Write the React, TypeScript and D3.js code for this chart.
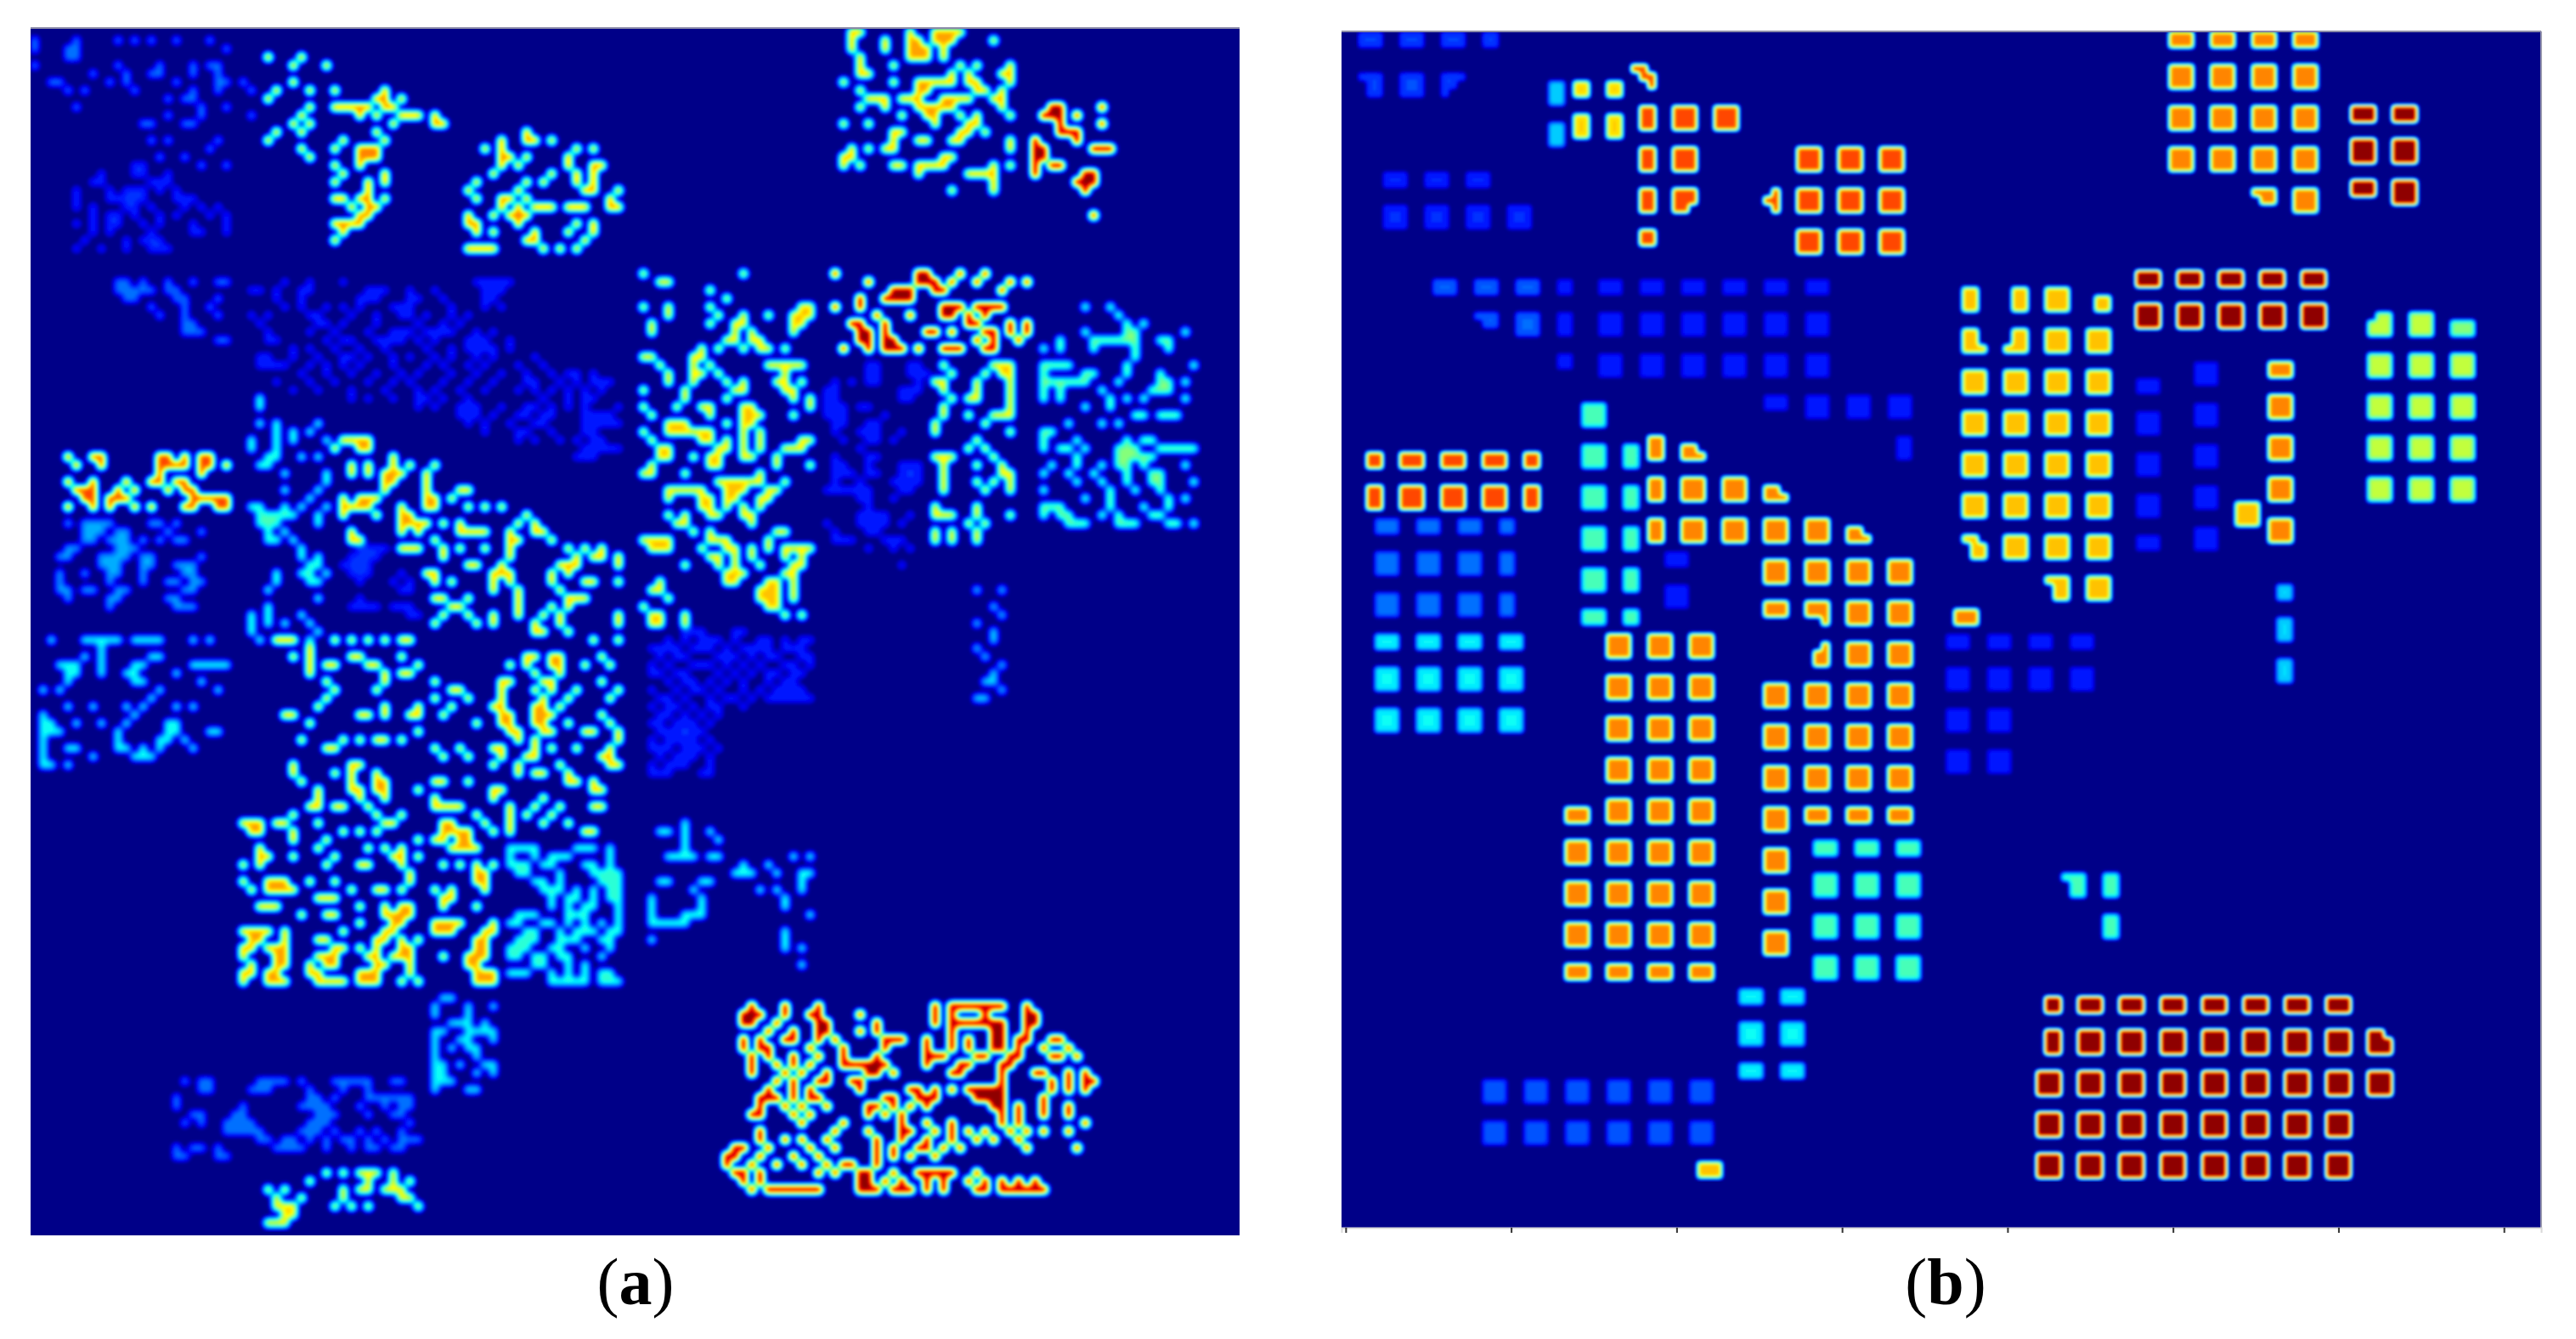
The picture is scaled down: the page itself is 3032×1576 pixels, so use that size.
import { useEffect, useMemo, useRef } from "react"
import * as d3 from "d3"

// 145 x 145 class map, shown with a jet colormap after smoothing
const GRID = 145
const UPSAMPLE = 4

const jetStops = [0, 0.125, 0.375, 0.625, 0.875, 1]
const jetColors = ["#000088", "#0000ff", "#00ffff", "#ffff00", "#ff0000", "#800000"]
const tickCells = [0, 20, 40, 60, 80, 100, 120, 140]

// panel (a): every row is [row, ...cols]
const aTopLeft = [[1,0,5,10,12,14,17,21],[2,0,4,5,23],[3,4,5],[4,0,10,15,19,21,22],[5,7,11,14,15,19,22],[6,2,3,9,11,17,22,23,25],[7,4,6,12,19,22,26],[8,16,18,19],[9,5,20,23],[10,16,20,26],[11,13,14,18,19],[13,14,16,22],[14,21],[15,15,18],[16,20,23]]
const aCloudLeft = [[16,12,13],[17,8,12,13,16],[18,7,8,14,15,16],[19,5,9,11,12,13,15,17],[20,5,9,10,11,12,13,17,18,19],[21,5,7,11,12,14,18,20,22],[22,7,9,10,12,15,17,21,23],[23,5,7,9,10,13,15,19,23],[24,7,9,14,19,20,23],[25,6,11,13,14,15],[26,5,8,11,14,15,16]]
const aStripLeft = [[30,10,11,13,16,19,22,23],[31,10,11,12,13,14,16,17],[32,11,12,17,18,22],[33,14,18,21],[34,15,18,22],[35,18,19],[36,18,19,20],[37,22,23]]
const aBand = [[30,30,33,37,53,54,55,56,57],[31,26,27,29,32,33,40,41,42,45,48,54,55,56],[32,29,32,39,40,41,45,46,49,54,55],[33,30,32,35,37,39,43,44,45,50,54,56],[34,26,28,33,34,38,41,44,45,47,50,52],[35,27,34,35,37,41,46,49,51],[36,28,33,36,40,43,44,45,47,48,49,50,53,55],[37,28,29,35,37,38,41,42,43,44,46,48,52,53,54,57],[38,31,33,36,39,42,47,50,52,53,54,55,57],[39,27,28,31,34,37,38,40,43,45,48,50,53,55,60],[40,27,28,29,30,33,35,37,39,43,47,49,52,54,58,61],[41,32,35,38,41,44,46,50,53,56,59,62,64,65,67],[42,29,33,36,40,43,45,49,52,55,59,60,63,65,67,68,69],[43,31,34,38,42,46,48,51,54,58,60,62,64,66,68],[44,38,40,43,46,47,49,52,61,64,66,67],[45,46,48,51,52,53,56,59,60,62,64,66,70],[46,51,52,53,55,58,59,61,62,66,67,68,69],[47,52,54,57,60,61,66,67,68,69,70],[48,54,58,59,62,66,67],[49,58,60,63,65,67,68],[50,66,67,68,69,70],[51,65,66,67]]
const aTopMiddle = [[3,28,32],[4,31,35],[6,31],[7,29,33,36,42],[8,28,41,42,44],[9,33,36,37,38,39,40,42,43],[10,32,39,41,44,45,46,48],[11,31,33,43,48,49],[12,29,32,41],[13,28,37,42],[14,32,36,39,40,41],[15,33,39,40,41],[16,36,39],[17,37,42],[18,36,40,42],[19,40],[20,36,37,39,40,42],[21,38,40,41],[22,39,40],[23,36,37,38,39],[24,37],[25,36]]
const aCircle = [[12,59],[13,56,59,60,62],[14,54,56,65,67],[15,56,57,59,64],[16,56,58,64,67,68],[17,55,62,65,67],[18,53,59,61,65,67],[19,52,58,66,67,70],[20,53,56,57,59,69],[21,56,58,60,61,62,64,65,66,69,70],[22,52,55,57,58,59],[23,52,53,58,65,67],[24,53,55,60,64,67],[25,59,60,66],[26,52,53,54,55,61,63,65]]
const aSmallOrange = [[51,4,7,8,15,16,18,20,21],[52,5,8,15,16,17,18,20,21,23],[53,15,20],[54,4,7,11,14,15,17,18],[55,5,6,7,10,12,16,18,19],[56,6,7,9,10,11,19,20,21,22,23],[57,4,7,9,12,14,18,19,22,23]]
const aBlueLeft = [[59,4,6,7,8,9,14,15,17],[60,6,7,8,10,11,16,20],[61,6,7,9,10,11,13,15,17,18],[62,4,5,10,11,12],[63,3,4,8,9,10,11,13,14,20],[64,8,9,10,13,14,17,18,19],[65,3,6,9,10,13,18,19],[66,3,9,13,16,17,19,20],[67,3,4,6,7,10,11,18,19],[68,4,9,10,16,17],[69,9,17,18,19]]
const aCyanLeft = [[73,2,6,7,8,9,10,12,13,14,15,19,21],[74,8],[75,6,8,14,15],[76,3,4,5,8,12,13,19,20,21,22,23],[77,4,5,8,11,12,17],[78,4,12,13,20],[79,1,3,15,22],[80,14],[81,4,7,11,13,17,19],[82,1,12],[83,1,2,5,8,11,16,17],[84,1,2,3,10,16,17,21,22],[85,1,10,15,16,18],[86,1,4,5,10,11,13,15,19],[87,1,7,12,13,14],[88,1,2,4]]
const aCyanColumn = [[44,27],[45,27],[47,27,29,34],[48,29,31,33],[49,26,29,31,35],[50,26,29],[51,28,29,32,34],[52,27,28],[53,30,35],[54,35],[55,30,34],[56,33],[57,26,27,30,32,35],[58,27,28,29,30,31,34],[59,27,28,29,34],[60,28,30],[61,28,29,31],[62,32],[63,32,34],[64,33,34],[65,29,32,33,35],[66,29,33,34],[67,28],[68,34],[69,28],[70,26,28,32],[71,26,28,30,33],[72,26,34],[73,27,33]]
const aInnerBlue = [[62,39,40,41,42],[63,38,39,40,41],[64,37,38,39,40],[65,38,39,40,44],[66,39,43,45],[67,44,45],[68,39],[69,38,39,40,41,43,44,45],[70,45,46]]
const aCentreMass = [[49,37,38,39,40],[50,36,39,40],[51,43],[52,38,40,43,45,48],[53,38,40,42,43,44,47],[54,42,43,47],[55,42,47,51,52],[56,37,39,40,41,47,48,50],[57,37,38,39,40,44,47,48,52,54,56],[58,37,41,44,45,59],[59,44,45,46,47,49,51,58,60],[60,38,44,46,51,52,53,54,57,60,61],[61,38,39,48,57,58,62],[62,44,45,46,49,51,54,57,64,66,68],[63,49,57,65,67,68,70],[64,52,53,56,63,64,65,70],[65,47,48,55,56,57,62,64],[66,48,50,55,57,62,66,67,70],[67,55,58,63],[68,48,49,52,58,64,65,66],[69,50,51,58,62,64],[70,49,52,55,58,61,63,70],[71,48,53,55,60,63,70],[72,60,61,64],[73,29,30,31,36,38,40,42,44,45,67,70],[74,33],[75,31,33,38,39,44,59,60,62,63,68],[76,33,35,36,40,41,46,57,59,62,63,66,69],[77,33,42,44,45,60,63],[78,35,42,48,56,57,61,62,68],[79,36,41,50,51,56,60,62,65,70],[80,35,48,52,56,61,64,69],[81,34,42,46,50,55,56,60,61,63],[82,30,31,39,40,42,45,46,49,56,57,60,61,62,68],[83,33,53,56,57,60,61,64,69],[84,46,57,58,61,62,66,67,70],[85,32,37,39,41,42,44,58,60,70],[86,35,36,48,51,55,56,60,62,65,69],[87,49,52,56,59,60,68,69],[88,31,38,39,55,58,63,69,70],[89,31,36,38,41,58,60,61,64],[90,32,38,41,42,48,49,52,64,65,67],[91,34,38,39,41,42,46,55,56,67,68],[92,34,39,42,48,55,61],[93,33,34,36,37,40,48,49,50,51,57,60,63,67,68],[94,31,41,44,53,57,59,62],[95,25,26,27,29,30,34,42,43,49,50,54,57,61,64],[96,26,27,31,37,39,41,49,50,51,52,55,57,66,67],[97,31,35,46,48,49,51,52],[98,27,34,40,42,44,50,51,52,53],[99,27,28,31,36,43,44,46],[100,25,27,35,39,40,44,49,51,53,55],[101,45,53,54],[102,25,28,29,30,33,36,45,53,54],[103,26,28,29,30,31,38,41,42,44,48,50,54],[104,34,35,36,49,50],[105,27,28,29,39,42,44,45,49,53],[106,32,35,36,42,43,44,45],[107,39,43,44,48,49,50,51,55],[108,25,26,27,28,30,37,42,43,48,49,50,54,55],[109,26,27,30,34,35,41,42,44,46,53,54],[110,25,26,28,29,30,36,37,39,41,44,45,53,54],[111,25,29,30,34,35,36,40,41,43,44,45,49,52,53,54],[112,26,29,30,33,35,36,41,42,45,52,53],[113,25,26,28,29,33,34,39,40,41,45,53,54,55],[114,25,28,29,30,34,35,36,37,39,40,41,44,46,53,54,55]]
const aCyanLower = [[98,57,58,59,60,65,66,67,69],[99,57,60,62,63,64,69],[100,57,58,59,61,62,66,67,69],[101,58,59,63,67,68,69,70],[102,60,61,63,68,69,70],[103,61,62,63,65,67,69,70],[104,62,64,65,67,69,70],[105,62,64,66,67,70],[106,58,59,60,64,65,66,70],[107,57,58,61,62,64,66,68,70],[108,59,60,63,65,66,67,69,70],[109,58,59,60,63,64,65,68,69],[110,57,58,59,62,63,66,69],[111,57,58,60,61,63,64,68],[112,60,61,64,66],[113,57,58,59,62,64,66,68,69],[114,62,63,64,65,66,68,69,70]]
const aSmallCyan = [[116,49,50],[117,48,52,55],[118,48,52],[119,50,51,52,54],[120,48,49,52,53,54,55],[121,48,51,52,55],[122,48,50,52,53],[123,48,53],[124,48,49,51,54,55],[125,48,49,53,55],[126,48,49,50],[127,48,52,53]]
const aBlueBottom = [[126,18,20,21,27,28,29,30,32,36,37,38,39,40,43,44],[127,20,21,26,27,28,33,37,40],[128,17,33,34,36,40,41,42,43,44,45],[129,17,25,32,33,34,35,39,42,44,45],[130,19,20,24,25,34,35,36,40,43,44],[131,18,20,23,24,25,26,33,34,35,45],[132,23,24,25,26,27,32,33,34,36,39,41,44],[133,27,28,30,31,33,35,37,38,40,42,44,45,46],[134,17,19,20,22,29,30,31,32,35,38,40,41,43,44],[135,17,18,22,23]]
const aLimeBottom = [[137,35,37,39,40,41,43],[138,33,40,43,45],[139,28,30,37,39,40,42,43,44],[140,29,32,37,44,45],[141,29,30,31,36,38,40,46],[142,30,31],[143,28,29,30]]
const aTopRight = [[0,98,99,105,108,109,110,111],[1,98,102,105,106,108,109,110,115],[2,98,102,105,106,107,109],[3,99,105,106,107,109],[4,99,103,111,113,117],[5,99,100,110,112,116,117],[6,97,103,106,107,108,109,110,112,113,117],[7,99,106,107,113,114,116],[8,100,101,102,104,105,106,109,110,111,112,115,116],[9,99,102,106,107,108,109,110,116],[10,104,107,108,111,113,117],[11,97,100,108,112,113],[12,103,104,111,112,114],[13,103,106,107,110,111,117],[14,98,100,102,103,117],[15,97,98,109,110],[16,97,99,103,104,106,107,108,109,115,117],[17,106,112,113,114,115],[18,115],[19,110,115]]
const aDarkRedTop = [[9,122,123,128],[10,121,122,123,125],[11,123,128],[12,123,124,125],[13,120,125],[14,120,121,127,128,129],[15,120,121],[16,120,122,123],[17,120,126,127],[18,125,126,127],[19,126],[22,127]]
const aYellow = [[29,73,85],[30,75,76],[31,81],[32,83],[33,73,76,81,92,93],[34,76,82,85,88,91,92,93],[35,74,81,84,85,91,92],[36,74,84,86,91],[37,83,84,86,87],[38,80,82,85,87,88,90],[39,73,74,79,80],[40,75,79,81,88,89,90,91,92],[41,76,79,80,82,90],[42,76,79,83,85,89,90,92],[43,73,78,84,85,90,91],[44,78,83,91,93],[45,73,77,80,81,85,86,93],[46,74,81,85,86,87,91],[47,76,77,78,83,85,86],[48,73,76,77,78,79,80,81,85,87],[49,74,80,81,83,85,87,92,93],[50,75,76,82,83,85,87,90,91,92],[51,75,76,79,81,82,85,86,89],[52,74,81,82,89,93],[53,73,74,78,87],[54,82,83,84,85,86,87,90],[55,76,77,78,79,80,83,84,85,88,89],[56,76,80,81,83,84,87,88],[57,80,81,83,85,87],[58,76,78,81,82,85,86],[59,77,78,86],[60,79,81,89,90],[61,73,74,75,76,81,82,83,88],[62,74,75,76,80,83,84,86,88,90,91,92,93],[63,81,82,84,86,90,92],[64,78,82,84,87,91,92],[65,83,84,85,90,91],[66,75,83,84,88,89,91],[67,74,75,87,88,89,91],[68,76,87,88,89,91],[69,73,88,89],[70,74,75,78,90,92],[71,74,75,78]]
const aDarkRedStrip = [[29,96,106,107,111,114],[30,100,106,107,108,110,113,117,119],[31,103,104,105,108,109,116],[32,99,102,103,104,105],[33,96,99,109,110,111,113,114,115,116],[34,101,105,109,110,112,114],[35,98,99,102,112,113,117,119],[36,99,100,102,107,108,110,114,115,117,119],[37,99,100,102,103,113,115,118],[38,97,100,102,103,104,106,109,110,111,114,115]]
const aDeepBlue = [[40,100,101,105,106],[41,100,101,105,106,107],[42,96,98,100,101,106],[43,95,96,104,105,106],[44,95,96,104,105],[45,95,96,97,99,100],[46,95,96,97,102],[47,96,97,100,101],[48,96,99,100,101,104],[49,97,100,101,103],[50,99],[51,96,100,101],[52,96,97,100,104,105,106],[53,96,97,98,100,101,104,105,106],[54,96,99,103,104,105,106],[55,95,96,97,98,99,100,104,105],[56,99,100,103],[57,100],[58,99,100,101,102,105],[59,95,99,100,101,102,104],[60,96,100,101],[61,96,97,98,102,103,104],[62,100,103,105],[64,104]]
const aYellowRight = [[40,109,115,116,117],[41,110,114,116,117],[42,108,109,113,117],[43,109,113,117],[44,110,112,113,117],[45,109,117],[46,109,112,115,116,117],[47,108,114],[48,108,117],[49,113],[50,112,114],[51,108,109,110,115],[52,109,113,116],[53,109,116,117],[54,109,113,115,117],[55,109,114,117],[57,108,113],[58,108,109,110,113,117],[59,112,114],[60,108,110,113],[61,108,110,113]]
const aCyanRight = [[33,126,129],[34,130],[35,131,133],[36,126,131,132,138],[37,123,127,128,129,130,131,132,135,136],[38,121,123,127,132,136],[39,132],[40,121,122,123,124,131,139],[41,121,126,127,131,135],[42,121,122,123,124,125,126,130,135,136,138],[43,121,123,128,134,135,136],[44,121,123,129,131,133,138],[45,126,129],[46,132,133,135,136,137],[47,124,128,130],[48,121,122],[49,121,125,131,133,134],[50,121,123,124,126,130,131,132,135,136,137,138,139],[51,125,130,131,132,133,134],[52,122,125,128,130,131,133,138],[53,121,124,127,131,134,135],[54,125,128,131,134,135,139],[55,121,129,132,135],[56,126,129,136,138],[57,121,122,123,129,133,136],[58,121,123,124,128,130,134,135],[59,124,125,126,130,131,132,136,137,139]]
const aThinColumn = [[67,113,116],[69,115],[70,116],[71,113],[72,115],[73,115],[74,113],[75,114],[76,116],[77,115],[78,114,115],[79,116],[80,113,114]]
const aBlueMiddle = [[72,78,79,80,84,85],[73,76,78,80,81,82,84,87,88,90,92,93],[74,74,75,76,77,79,80,81,83,85,86,87,88,90,91,92],[75,75,77,78,82,83,84,86,88,89,92,93],[76,74,76,79,80,81,83,85,87,90,91,93],[77,74,75,77,78,82,84,86,88,89,91,92],[78,76,78,79,81,83,85,88,90,91],[79,74,77,79,80,82,85,87,89,90,91,92],[80,75,76,78,81,83,84,86,88,89,90,91,92,93],[81,74,76,77,79,81,82,85],[82,75,76,78,80,82],[83,74,75,77,78,79,81],[84,75,76,77,78,79,80],[85,74,76,77,78,79,81],[86,74,75,76,78,79,80,82],[87,75,77,78,79,81],[88,74,76,77,78,81],[89,74,75,76,80,81]]
const aCyanMiddle = [[95,78],[96,75,76,78,81],[97,78,82],[98,78],[99,76,77,78,79,81,82,91,93],[100,85,88],[101,84,85,86,89,92,93],[102,75,76,80,81,92],[103,79,87,89,92],[104,74,80,90],[105,74,80,90],[106,74,78,79,80,93],[107,74,75,76,77,78],[108,90],[109,74,90],[110,90,92],[112,92]]
const aDarkRedBottom = [[117,86,90,94,108,110,111,112,113,114,115,116,119],[118,85,86,87,90,93,94,99,108,110,114,119,120],[119,85,86,89,94,95,101,108,110,111,112,113,114,115,116,119,120],[120,88,91,94,95,99,101,110,115,116,119],[121,85,87,90,91,94,96,102,103,104,107,110,112,115,116,118,119,122,123],[122,85,87,88,93,97,102,107,110,112,115,116,118,121,124],[123,86,88,91,94,97,101,107,108,109,113,114,117,118,122,123,125],[124,86,89,91,93,97,98,99,100,101,102,107,111,112,116,117],[125,86,90,92,95,100,101,103,110,111,116,120,121,124,126],[126,89,91,94,95,98,99,116,122,124,126,127],[127,88,91,93,99,105,106,108,110,112,113,114,115,116,122,124,126],[128,87,88,89,91,93,94,102,103,106,107,108,113,114,115,116,121],[129,87,90,92,95,100,101,103,105,107,115,116,118,121,124],[130,86,87,91,93,100,102,104,116,118,121,124],[131,92,97,104,107,110,116,118,126],[132,87,96,100,104,105,108,110,112,114,117,119,121,124],[133,87,90,92,95,101,104,107,110,113,115,118],[134,84,85,88,93,96,101,103,106,107,109,111,119,125],[135,83,84,87,91,94,101,103,105,108],[136,83,86,89,92,95,97,98,101],[137,84,85,87,94,96,99,100,103,106,107,108,109,110,113],[138,85,87,99,100,102,104,107,109,112,114,116,118,120],[139,86,88,89,90,91,92,93,94,99,100,101,103,104,105,107,109,113,114,116,117,118,119,120,121]]

// panel (b): every row is [row, height, width, ...cols]
const bBlueTop = [[0,2,3,2,7,12],[0,2,2,17],[5,1,3,2,7,12],[6,1,2,3,12],[6,2,3,7],[7,1,2,3],[7,1,1,12]]
const bBlueSecond = [[17,2,3,5,10,15],[21,3,3,5,10,15,20]]
const bSkyRow = [[30,2,3,11,16,21],[34,3,3,21],[34,1,3,16],[35,1,2,17]]
const bBlueBand = [[30,2,2,26],[30,2,3,31,36,41,46,51,56],[34,3,2,26],[34,3,3,31,36,41,46,51,56],[39,2,2,26],[39,3,3,31,36,41,46,51,56],[44,2,3,51],[44,3,3,56,61,66],[49,3,2,67],[63,2,3,39],[67,3,3,39]]
const bCyanSmall = [[6,3,2,25],[11,3,2,25]]
const bYellowSmall = [[6,2,2,28,32],[10,3,2,28,32]]
const bOrangeRed = [[4,1,2,35],[5,1,2,36],[6,1,1,37],[9,3,2,36],[14,3,2,36],[19,3,2,36],[24,2,2,36],[9,3,3,40,45],[14,3,3,40],[19,2,3,40],[21,1,2,40],[14,3,3,55,60,65],[19,3,3,55,60,65],[24,3,3,55,60,65],[19,3,1,52],[20,1,1,51],[51,2,2,3,22],[51,2,3,7,12,17],[55,3,2,3,22],[55,3,3,7,12,17]]
const bAqua = [[45,3,3,29],[50,3,3,29],[55,3,3,29],[60,3,3,29],[65,3,3,29],[70,2,3,29],[50,3,2,34],[55,3,2,34],[60,3,2,34],[65,3,2,34],[70,2,2,34],[98,2,3,57,62,67],[102,3,3,57,62,67],[107,3,3,57,62,67],[112,3,3,57,62,67],[102,1,3,87],[103,2,2,88],[102,3,2,92],[107,3,2,92]]
const bOrange = [[49,3,2,37],[54,3,2,37],[59,3,2,37],[50,1,2,41],[51,1,3,41],[54,3,3,41,46],[59,3,3,41,46,51,56],[55,1,2,51],[56,1,3,51],[60,1,2,61],[61,1,3,61],[64,3,3,51,56,61,66],[69,2,3,51,56],[71,1,1,58],[69,3,3,61,66],[74,3,1,58],[75,2,1,57],[74,3,3,61,66],[79,3,3,51,56,61,66],[84,3,3,51,56,61,66],[89,3,3,51,56,61,66],[94,2,3,56,61,66],[94,3,3,51],[99,3,3,51],[104,3,3,51],[109,3,3,51],[73,3,3,32,37,42],[78,3,3,32,37,42],[83,3,3,32,37,42],[88,3,3,32,37,42],[93,3,3,32,37,42],[98,3,3,27,32,37,42],[103,3,3,27,32,37,42],[108,3,3,27,32,37,42],[113,2,3,27,32,37,42],[94,2,3,27],[0,2,3,100,105,110,115],[4,3,3,100,105,110,115],[9,3,3,100,105,110,115],[14,3,3,100,105,110,115],[19,1,3,110],[20,1,2,111],[19,3,3,115],[40,2,3,112],[44,3,3,112],[49,3,3,112],[54,3,3,112],[59,3,3,112],[70,2,3,74]]
const bBlueMid = [[59,2,3,4,9,14],[59,2,2,19],[63,3,3,4,9,14],[63,3,2,19],[68,3,3,4,9,14],[68,3,2,19]]
const bCyan = [[73,2,3,4,9,14,19],[77,3,3,4,9,14,19],[82,3,3,4,9,14,19],[116,2,3,48,53],[120,3,3,48,53],[125,2,3,48,53]]
const bDarkRed = [[9,2,3,122,127],[13,3,3,122,127],[18,2,3,122],[18,3,3,127],[29,2,3,96,101,106,111,116],[33,3,3,96,101,106,111,116],[117,2,2,85],[117,2,3,89,94,99,104,109,114,119],[121,3,2,85],[121,3,3,89,94,99,104,109,114,119],[121,1,2,124],[122,2,3,124],[126,3,3,84,89,94,99,104,109,114,119,124],[131,3,3,84,89,94,99,104,109,114,119],[136,3,3,84,89,94,99,104,109,114,119]]
const bAmber = [[31,3,2,75],[31,3,2,81],[31,3,3,85],[32,2,2,91],[36,2,2,75],[38,1,3,75],[36,2,2,81],[38,1,3,80],[36,3,3,85,90],[41,3,3,75,80,85,90],[46,3,3,75,80,85,90],[51,3,3,75,80,85,90],[56,3,3,75,80,85,90],[61,1,2,75],[62,2,2,76],[61,3,3,80,85,90],[66,1,3,85],[67,2,2,86],[66,3,3,90],[57,3,3,108],[137,2,3,43]]
const bDeepBlue = [[42,2,3,96],[46,3,3,96],[51,3,3,96],[56,3,3,96],[61,2,3,96],[40,3,3,103],[45,3,3,103],[50,3,3,103],[55,3,3,103],[60,3,3,103],[73,2,3,73,78,83,88],[77,3,3,73,78,83,88],[82,3,3,73,78],[87,3,3,73,78]]
const bLime = [[34,1,2,125],[35,2,3,124],[34,3,3,129],[39,3,3,124,129,134],[44,3,3,124,129,134],[49,3,3,124,129,134],[54,3,3,124,129,134]]
const bLimePale = [[35,2,3,134]]
const bSkyColumn = [[67,2,2,113],[71,3,2,113],[76,3,2,113]]
const bBlueBottom = [[127,3,3,17,22,27,32,37,42],[132,3,3,17,22,27,32,37,42]]

const panelAGroups: [number, number[][]][] = [
    [0.25, aTopLeft], [0.165, aCloudLeft], [0.24, aStripLeft], [0.16, aBand],
    [0.76, aTopMiddle], [0.76, aCircle], [0.82, aSmallOrange], [0.29, aBlueLeft],
    [0.4, aCyanLeft], [0.44, aCyanColumn], [0.165, aInnerBlue], [0.72, aCentreMass],
    [0.43, aCyanLower], [0.38, aSmallCyan], [0.25, aBlueBottom], [0.66, aLimeBottom],
    [0.72, aTopRight], [1, aDarkRedTop], [0.68, aYellow], [1, aDarkRedStrip],
    [0.16, aDeepBlue], [0.68, aYellowRight], [0.5, aCyanRight], [0.36, aThinColumn],
    [0.16, aBlueMiddle], [0.42, aCyanMiddle], [1, aDarkRedBottom],
]
const panelBGroups: [number, number[][]][] = [
    [0.19, bBlueTop], [0.16, bBlueSecond], [0.22, bSkyRow], [0.14, bBlueBand],
    [0.33, bCyanSmall], [0.67, bYellowSmall], [0.81, bOrangeRed], [0.44, bAqua],
    [0.75, bOrange], [0.23, bBlueMid], [0.37, bCyan], [1, bDarkRed], [0.69, bAmber],
    [0.14, bDeepBlue], [0.56, bLime], [0.5, bLimePale], [0.34, bSkyColumn], [0.2, bBlueBottom],
]

const panelA = { left: 36, right: 1459, top: 33, bottom: 1454 }
const panelB = { left: 1579, right: 2991, top: 37, bottom: 1445 }

const jet = d3.scaleLinear<string>().domain(jetStops).range(jetColors).clamp(true)
const levels = d3.range(0.04, 1, 0.03)

// nearest upsample, then a separable gaussian so that lone pixels lose some of their peak
const smooth = (cells: Float64Array, sigmaCells: number) => {
    const n = GRID * UPSAMPLE
    const hi = new Float64Array(n * n)
    for (let r = 0; r < GRID; r++) {
        for (let c = 0; c < GRID; c++) {
            const v = cells[r * GRID + c]
            if (!v) continue
            for (let j = 0; j < UPSAMPLE; j++) {
                for (let i = 0; i < UPSAMPLE; i++) {
                    hi[(r * UPSAMPLE + j) * n + c * UPSAMPLE + i] = v
                }
            }
        }
    }
    const sigma = sigmaCells * UPSAMPLE
    const radius = Math.ceil(sigma * 2.5)
    const kernel = d3.range(-radius, radius + 1).map((d) => Math.exp((-d * d) / (2 * sigma * sigma)))
    const total = d3.sum(kernel)
    const weights = kernel.map((d) => d / total)
    const tmp = new Float64Array(n * n)
    const out = new Float64Array(n * n)
    for (let y = 0; y < n; y++) {
        for (let x = 0; x < n; x++) {
            const v = hi[y * n + x]
            if (!v) continue
            for (let k = -radius; k <= radius; k++) {
                if (x + k >= 0 && x + k < n) tmp[y * n + x + k] += v * weights[k + radius]
            }
        }
    }
    for (let y = 0; y < n; y++) {
        for (let x = 0; x < n; x++) {
            const v = tmp[y * n + x]
            if (!v) continue
            for (let k = -radius; k <= radius; k++) {
                if (y + k >= 0 && y + k < n) out[(y + k) * n + x] += v * weights[k + radius]
            }
        }
    }
    return out
}

const panelACells = () => {
    const cells = new Float64Array(GRID * GRID)
    panelAGroups.forEach(([t, rows]) => {
        rows.forEach(([row, ...cols]) => {
            cols.forEach((c) => { cells[row * GRID + c] = t })
        })
    })
    return cells
}

const panelBCells = () => {
    const cells = new Float64Array(GRID * GRID)
    panelBGroups.forEach(([t, rows]) => {
        rows.forEach(([row, h, w, ...cols]) => {
            cols.forEach((c) => {
                for (let j = row; j < row + h && j < GRID; j++) {
                    for (let i = c; i < c + w && i < GRID; i++) cells[j * GRID + i] = t
                }
            })
        })
    })
    return cells
}

const Panel = ({ id, box, makeCells, sigma, blur, ticks }: any) => {
    const axisRef = useRef<SVGGElement>(null)
    const n = GRID * UPSAMPLE
    const xHi = d3.scaleLinear().domain([0, n]).range([box.left, box.right])
    const yHi = d3.scaleLinear().domain([0, n]).range([box.top, box.bottom])
    const xCell = d3.scaleLinear().domain([0, GRID]).range([box.left, box.right])

    const paths = useMemo(() => {
        const path = d3.geoPath(d3.geoTransform({
            point(x, y) { this.stream.point(xHi(x), yHi(y)) },
        }))
        const bands = d3.contours().size([n, n]).thresholds(levels)(Array.from(smooth(makeCells(), sigma)))
        return bands.map((c) => ({ value: c.value, d: path(c) || "" }))
    }, [])

    useEffect(() => {
        if (!ticks) return
        const g = d3.select(axisRef.current)
        g.selectAll("*").remove()
        g.call(d3.axisBottom(xCell).tickValues(tickCells.map((d) => d + 0.5)).tickSize(6).tickFormat(() => ""))
        g.select(".domain").attr("stroke", "#d8d8d8").attr("stroke-width", 2)
        g.selectAll("line").attr("stroke", "#333333").attr("stroke-width", 2)
    }, [])

    return (
        <g>
            <defs>
                <filter id={id} x="0" y="0" width="100%" height="100%">
                    <feGaussianBlur stdDeviation={blur} />
                </filter>
            </defs>
            <rect x={box.left} y={box.top} width={box.right - box.left} height={box.bottom - box.top} fill="#000088" />
            <g filter={`url(#${id})`}>
                {paths.map((p) => (
                    <path key={p.value} d={p.d} fill={jet(p.value + 0.015)} fillRule="evenodd" />
                ))}
            </g>
            <line x1={box.left} x2={box.right} y1={box.top} y2={box.top} stroke="#8a8aa8" strokeWidth={2} />
            {ticks && <line x1={box.right} x2={box.right} y1={box.top} y2={box.bottom} stroke="#9a9ab0" strokeWidth={2} />}
            {ticks && <g ref={axisRef} transform={`translate(0, ${box.bottom})`} />}
        </g>
    )
}

const App = () => {
    return (
        <svg width={3032} height={1576} style={{ position: "absolute", left: 0, top: 0, display: "block", background: "#fff" }}>
            <Panel id="softA" box={panelA} makeCells={panelACells} sigma={0.36} blur={1.5} ticks={false} />
            <Panel id="softB" box={panelB} makeCells={panelBCells} sigma={0.24} blur={1.4} ticks={true} />
            <text x={748} y={1535} textAnchor="middle" fontFamily="Liberation Serif" fontSize={78} fill="#000">
                (<tspan fontWeight="bold">a</tspan>)
            </text>
            <text x={2290} y={1535} textAnchor="middle" fontFamily="Liberation Serif" fontSize={78} fill="#000">
                (<tspan fontWeight="bold">b</tspan>)
            </text>
        </svg>
    )
}

export default App
